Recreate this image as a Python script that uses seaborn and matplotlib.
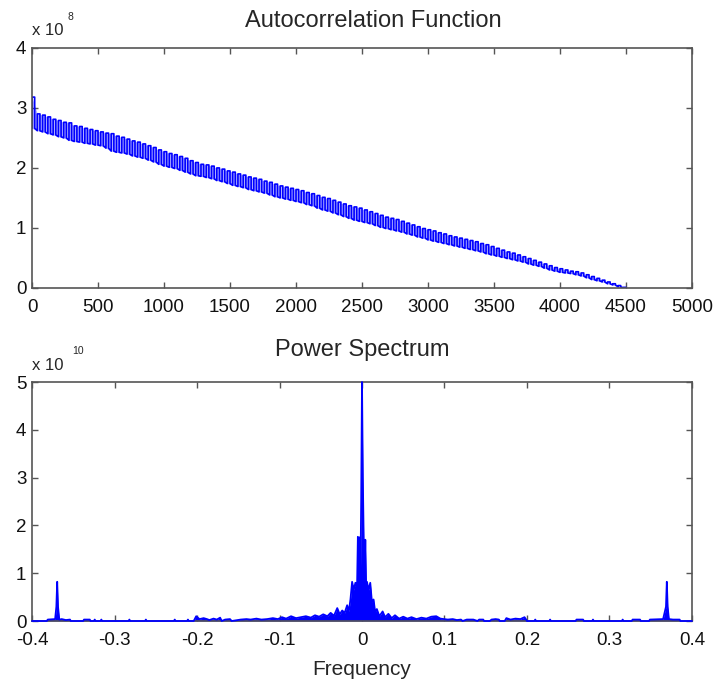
import matplotlib
matplotlib.use("Agg")
import matplotlib.pyplot as plt
import seaborn as sns
from pandas import DataFrame

# Autocorrelation: upper / lower envelope of the oscillation (units of 1e8),
# one stripe every 40 lags
acf_lag = list(range(0, 4481, 40))
acf_hi = [
    3.18, 2.90, 2.88, 2.85, 2.81, 2.79, 2.76, 2.75, 2.70, 2.69,
    2.66, 2.64, 2.62, 2.60, 2.58, 2.57, 2.53, 2.51, 2.48, 2.45,
    2.43, 2.40, 2.37, 2.34, 2.30, 2.27, 2.24, 2.22, 2.19, 2.16,
    2.12, 2.09, 2.06, 2.05, 2.03, 2.00, 1.98, 1.95, 1.93, 1.90,
    1.88, 1.85, 1.83, 1.81, 1.78, 1.76, 1.73, 1.70, 1.68, 1.66,
    1.64, 1.62, 1.59, 1.57, 1.54, 1.51, 1.49, 1.46, 1.43, 1.40,
    1.37, 1.35, 1.33, 1.30, 1.27, 1.24, 1.21, 1.18, 1.16, 1.14,
    1.11, 1.08, 1.05, 1.02, 0.99, 0.97, 0.95, 0.92, 0.90, 0.87,
    0.85, 0.83, 0.81, 0.79, 0.77, 0.74, 0.72, 0.69, 0.66, 0.63,
    0.60, 0.58, 0.55, 0.52, 0.49, 0.46, 0.43, 0.40, 0.37, 0.34,
    0.32, 0.30, 0.28, 0.27, 0.25, 0.22, 0.19, 0.16, 0.13, 0.10,
    0.07, 0.04, 0.01,
]
acf_lo = [
    2.66, 2.62, 2.60, 2.57, 2.55, 2.52, 2.50, 2.46, 2.44, 2.43,
    2.41, 2.40, 2.38, 2.37, 2.33, 2.28, 2.26, 2.25, 2.23, 2.20,
    2.18, 2.16, 2.13, 2.10, 2.06, 2.03, 2.01, 1.99, 1.96, 1.93,
    1.90, 1.87, 1.86, 1.84, 1.82, 1.79, 1.77, 1.74, 1.71, 1.69,
    1.67, 1.64, 1.62, 1.60, 1.58, 1.55, 1.52, 1.50, 1.48, 1.46,
    1.44, 1.42, 1.39, 1.37, 1.33, 1.30, 1.28, 1.25, 1.22, 1.19,
    1.16, 1.13, 1.11, 1.09, 1.07, 1.04, 1.01, 0.99, 0.97, 0.95,
    0.93, 0.90, 0.88, 0.85, 0.83, 0.80, 0.78, 0.76, 0.74, 0.72,
    0.70, 0.68, 0.66, 0.64, 0.62, 0.60, 0.57, 0.55, 0.53, 0.51,
    0.49, 0.47, 0.45, 0.43, 0.40, 0.38, 0.36, 0.33, 0.30, 0.28,
    0.26, 0.25, 0.24, 0.22, 0.20, 0.17, 0.14, 0.12, 0.10, 0.07,
    0.05, 0.02, 0.00,
]

# Power spectrum (units of 1e10)
psd_freq = [
    -0.400, -0.382, -0.381, -0.372, -0.3705, -0.3695, -0.3685, -0.367, -0.364, -0.359,
    -0.354, -0.353, -0.338, -0.337, -0.330, -0.329, -0.325, -0.324, -0.323, -0.317,
    -0.316, -0.315, -0.283, -0.282, -0.281, -0.263, -0.262, -0.261, -0.228, -0.227,
    -0.226, -0.212, -0.211, -0.210, -0.204, -0.201, -0.197, -0.192, -0.188, -0.185,
    -0.180, -0.176, -0.172, -0.170, -0.166, -0.160, -0.158, -0.147, -0.140, -0.135,
    -0.128, -0.122, -0.115, -0.108, -0.102, -0.097, -0.092, -0.086, -0.080, -0.074,
    -0.068, -0.062, -0.057, -0.052, -0.047, -0.042, -0.038, -0.034, -0.030, -0.027,
    -0.024, -0.021, -0.018, -0.016, -0.014, -0.012, -0.010, -0.008, -0.006, -0.005,
    -0.004, -0.003, -0.002, -0.001, 0.000, 0.001, 0.002, 0.003, 0.004, 0.005,
    0.006, 0.008, 0.010, 0.012, 0.014, 0.016, 0.018, 0.021, 0.025, 0.028,
    0.032, 0.036, 0.040, 0.045, 0.050, 0.055, 0.060, 0.066, 0.072, 0.078,
    0.084, 0.090, 0.095, 0.100, 0.104, 0.110, 0.115, 0.120, 0.122, 0.127,
    0.135, 0.140, 0.142, 0.147, 0.148, 0.155, 0.157, 0.162, 0.166, 0.167,
    0.173, 0.175, 0.180, 0.186, 0.192, 0.197, 0.199, 0.200, 0.209, 0.210,
    0.211, 0.227, 0.228, 0.229, 0.259, 0.260, 0.268, 0.269, 0.279, 0.280,
    0.281, 0.315, 0.316, 0.317, 0.327, 0.328, 0.337, 0.338, 0.348, 0.349,
    0.365, 0.3685, 0.3695, 0.3705, 0.372, 0.377, 0.385, 0.386, 0.400,
]
psd_power = [
    0.00, 0.00, 0.03, 0.04, 0.30, 0.82, 0.30, 0.03, 0.04, 0.02,
    0.03, 0.00, 0.00, 0.03, 0.03, 0.00, 0.00, 0.03, 0.00, 0.00,
    0.03, 0.00, 0.00, 0.03, 0.00, 0.00, 0.03, 0.00, 0.00, 0.03,
    0.00, 0.00, 0.03, 0.00, 0.00, 0.10, 0.04, 0.06, 0.04, 0.02,
    0.05, 0.03, 0.07, 0.00, 0.03, 0.04, 0.00, 0.03, 0.04, 0.03,
    0.05, 0.03, 0.04, 0.06, 0.04, 0.08, 0.05, 0.10, 0.06, 0.08,
    0.10, 0.07, 0.12, 0.09, 0.14, 0.10, 0.17, 0.11, 0.27, 0.14,
    0.22, 0.17, 0.33, 0.20, 0.45, 0.82, 0.65, 0.80, 0.70, 1.76,
    0.78, 1.75, 0.80, 2.50, 5.00, 3.00, 1.75, 0.80, 1.70, 0.75,
    0.82, 0.65, 0.80, 0.40, 0.45, 0.18, 0.25, 0.10, 0.20, 0.08,
    0.15, 0.06, 0.12, 0.05, 0.09, 0.05, 0.08, 0.04, 0.07, 0.05,
    0.09, 0.10, 0.05, 0.04, 0.03, 0.04, 0.02, 0.03, 0.00, 0.03,
    0.03, 0.00, 0.03, 0.03, 0.00, 0.00, 0.03, 0.04, 0.03, 0.00,
    0.00, 0.06, 0.03, 0.05, 0.04, 0.08, 0.03, 0.00, 0.00, 0.03,
    0.00, 0.00, 0.03, 0.00, 0.00, 0.03, 0.03, 0.00, 0.00, 0.03,
    0.00, 0.00, 0.03, 0.00, 0.00, 0.03, 0.03, 0.00, 0.00, 0.03,
    0.04, 0.30, 0.82, 0.30, 0.04, 0.03, 0.03, 0.00, 0.00,
]

acf_xticks = list(range(0, 5001, 500))
acf_yticks = [0, 1, 2, 3, 4]
psd_xticks = [-0.4, -0.3, -0.2, -0.1, 0, 0.1, 0.2, 0.3, 0.4]
psd_xticklabels = ["-0.4", "-0.3", "-0.2", "-0.1", "0", "0.1", "0.2", "0.3", "0.4"]
psd_yticks = [0, 1, 2, 3, 4, 5]

sns.set_style("ticks", {"xtick.direction": "in", "ytick.direction": "in"})
plt.rcParams["font.family"] = ["Liberation Sans", "DejaVu Sans"]
plt.rcParams["axes.unicode_minus"] = False

LINE = "#0000ff"
SPINE = "#555555"

fig = plt.figure(figsize=(7.15, 6.84), dpi=100)
ax1 = fig.add_axes([0.0448, 0.579, 0.923, 0.351])
ax2 = fig.add_axes([0.0448, 0.0921, 0.923, 0.3494])

# each lag: up stroke, along the top, down stroke half a step later,
# then along the bottom to the next lag -> dense hatched band
half = (acf_lag[1] - acf_lag[0]) / 2
zig_x, zig_y = [], []
for lag, hi, lo in zip(acf_lag, acf_hi, acf_lo):
    zig_x += [lag, lag, lag + half, lag + half]
    zig_y += [lo, hi, hi, lo]
acf_df = DataFrame({"lag": zig_x, "acf": zig_y})
ax1.fill_between(acf_lag, acf_lo, acf_hi, color=LINE, alpha=0.3, linewidth=0)
sns.lineplot(data=acf_df, x="lag", y="acf", sort=False, estimator=None,
             color=LINE, linewidth=1.2, ax=ax1)

psd_df = DataFrame({"freq": psd_freq, "power": psd_power})
ax2.fill_between(psd_df["freq"], psd_df["power"], color=LINE, linewidth=0)
sns.lineplot(data=psd_df, x="freq", y="power", sort=False, estimator=None,
             color=LINE, linewidth=1.0, ax=ax2)
for ln in ax2.lines:
    ln.set_clip_on(False)
    ln.set_zorder(5)
    ln.set_linewidth(1.3)

for ax in (ax1, ax2):
    ax.set_xlabel("")
    ax.set_ylabel("")
    for s in ax.spines.values():
        s.set_visible(True)
        s.set_color(SPINE)
        s.set_linewidth(1.2)
    ax.tick_params(direction="in", top=True, right=True, length=4,
                   width=1, color=SPINE, labelsize=13.5, labelcolor="#111111")
    ax.tick_params(axis="x", pad=8)
    ax.tick_params(axis="y", pad=4)

ax1.set_xlim(0, 5000)
ax1.set_ylim(0, 4)
ax1.set_xticks(acf_xticks)
ax1.set_yticks(acf_yticks)
ax1.set_title("Autocorrelation Function", fontsize=17, pad=15, x=0.517)
ax1.annotate("x 10", xy=(0, 1), xycoords="axes fraction", xytext=(0, 9.5),
             textcoords="offset points", fontsize=12, ha="left", va="baseline")
ax1.annotate("8", xy=(0, 1), xycoords="axes fraction", xytext=(25.5, 20),
             textcoords="offset points", fontsize=7.5, ha="left", va="baseline")

ax2.set_xlim(-0.4, 0.4)
ax2.set_ylim(0, 5)
ax2.set_xticks(psd_xticks)
ax2.set_xticklabels(psd_xticklabels)
ax2.set_yticks(psd_yticks)
ax2.set_title("Power Spectrum", fontsize=17, pad=19)
ax2.set_xlabel("Frequency", fontsize=15, labelpad=8)
ax2.annotate("x 10", xy=(0, 1), xycoords="axes fraction", xytext=(0, 8.5),
             textcoords="offset points", fontsize=12, ha="left", va="baseline")
ax2.annotate("10", xy=(0, 1), xycoords="axes fraction", xytext=(29, 20),
             textcoords="offset points", fontsize=7.5, ha="left", va="baseline")

fig.savefig("out.png", dpi=100)
